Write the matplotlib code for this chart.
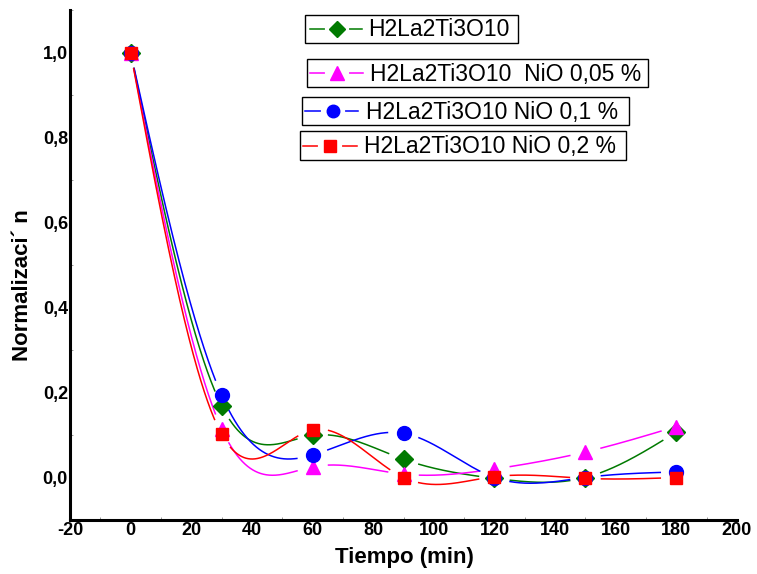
import numpy as np
import matplotlib
matplotlib.use("Agg")
import matplotlib.pyplot as plt
from matplotlib.lines import Line2D
from matplotlib.patches import Rectangle
from matplotlib.ticker import FuncFormatter, MultipleLocator

# ---- data ----
tiempo = [0, 30, 60, 90, 120, 150, 180]
s_base = [1.0, 0.169, 0.099, 0.043, -0.002, 0.0, 0.107]
s_005 = [1.0, 0.115, 0.025, 0.008, 0.02, 0.06, 0.12]
s_01 = [1.0, 0.194, 0.053, 0.104, 0.0, 0.0, 0.013]
s_02 = [1.0, 0.102, 0.112, 0.0, 0.002, -0.002, 0.0]
labels = ["H2La2Ti3O10", "H2La2Ti3O10  NiO 0,05 %",
          "H2La2Ti3O10 NiO 0,1 %", "H2La2Ti3O10 NiO 0,2 %"]
colors = ["#007A00", "#FF00FF", "#0000FF", "#FF0000"]
markers = ["D", "^", "o", "s"]
msizes = [9, 10.5, 10, 9]
xticks = [-20, 0, 20, 40, 60, 80, 100, 120, 140, 160, 180, 200]
yticks = [0.0, 0.2, 0.4, 0.6, 0.8, 1.0]

W, H = 757, 574
fig = plt.figure(figsize=(W / 100, H / 100), dpi=100)
L, R, T, B = 70, 737, 10, 520
ax = fig.add_axes([L / W, 1 - B / H, (R - L) / W, (B - T) / H])
xmin, xmax, ymin, ymax = -20, 200, -0.1, 1.1
ax.set_xlim(xmin, xmax)
ax.set_ylim(ymin, ymax)


def natural_spline(x, y, xs):
    x = np.asarray(x, float); y = np.asarray(y, float)
    n = len(x)
    h = np.diff(x)
    A = np.zeros((n, n)); rhs = np.zeros(n)
    A[0, 0] = 1; A[-1, -1] = 1
    for i in range(1, n - 1):
        A[i, i - 1] = h[i - 1]
        A[i, i] = 2 * (h[i - 1] + h[i])
        A[i, i + 1] = h[i]
        rhs[i] = 6 * ((y[i + 1] - y[i]) / h[i] - (y[i] - y[i - 1]) / h[i - 1])
    M = np.linalg.solve(A, rhs)
    idx = np.clip(np.searchsorted(x, xs) - 1, 0, n - 2)
    x0 = x[idx]; x1 = x[idx + 1]; hh = x1 - x0
    a = (x1 - xs) / hh; b = (xs - x0) / hh
    return (a * y[idx] + b * y[idx + 1]
            + ((a ** 3 - a) * M[idx] + (b ** 3 - b) * M[idx + 1]) * hh ** 2 / 6)


sx = (R - L) / (xmax - xmin)
sy = (B - T) / (ymax - ymin)
series = [s_base, s_005, s_01, s_02]
xs = np.linspace(0, 180, 4000)
gap = 16
for ys, c, m, ms in zip(series, colors, markers, msizes):
    yc = natural_spline(tiempo, ys, xs)
    mask = np.ones_like(xs, bool)
    for px, py in zip(tiempo, ys):
        d = np.hypot((xs - px) * sx, (yc - py) * sy)
        mask &= d > gap
    yplot = np.where(mask, yc, np.nan)
    ax.plot(xs, yplot, color=c, lw=1.1)
for ys, c, m, ms in zip(series, colors, markers, msizes):
    ax.plot(tiempo, ys, linestyle="none", marker=m, color=c, ms=ms, mec=c)

for s in ["top", "right"]:
    ax.spines[s].set_visible(False)
for s in ["left", "bottom"]:
    ax.spines[s].set_linewidth(2.2)

fam = ["Liberation Sans Narrow", "Liberation Sans", "DejaVu Sans"]
ax.set_xticks(xticks)
ax.set_yticks(yticks)
ax.xaxis.set_minor_locator(MultipleLocator(10))
ax.yaxis.set_minor_locator(MultipleLocator(0.1))
ax.xaxis.set_major_formatter(FuncFormatter(lambda v, p: f"{int(round(v))}"))
ax.yaxis.set_major_formatter(FuncFormatter(lambda v, p: f"{v:.1f}".replace(".", ",")))
ax.tick_params(which="both", direction="in", length=0, pad=1.5)
ax.tick_params(which="minor", length=2, width=0.6, color="#888888")
for lab in ax.get_xticklabels() + ax.get_yticklabels():
    lab.set_family(fam); lab.set_weight("bold"); lab.set_size(13)

ax.set_xlabel("Tiempo (min)", family=fam, weight="bold", size=16)
ax.set_ylabel("Normalizaci´ n", family=fam, weight="bold", size=16)
ax.xaxis.set_label_coords((404 - L) / (R - L), (B - 558) / (B - T))
ax.yaxis.set_label_coords((22 - L) / (R - L), (B - 285) / (B - T))
ax.xaxis.label.set_va("center")
ax.yaxis.label.set_va("center")

# ---- legend boxes (separate, Origin style) ----
boxes = [(305, 15, 518, 43, 310, 362, 337, 368),
         (307, 59, 648, 87, 310, 363, 337, 370),
         (302, 97, 629, 125, 305, 358, 333, 366),
         (300, 131, 626, 160, 303, 357, 330, 364)]
leg_ms = [8.5, 10, 9, 8]


def fx(px):
    return px / W


def fy(py):
    return 1 - py / H


for (x0, y0, x1, y1, l0, l1, mx, tx), lab, c, m, ms in zip(boxes, labels, colors, markers, leg_ms):
    fig.add_artist(Rectangle((fx(x0), fy(y1)), (x1 - x0) / W, (y1 - y0) / H,
                             transform=fig.transFigure, fill=False, ec="black", lw=1.0))
    yc = (y0 + y1) / 2
    fig.add_artist(Line2D([fx(l0), fx(l1)], [fy(yc), fy(yc)], transform=fig.transFigure,
                          color=c, lw=1.1))
    fig.add_artist(Line2D([fx(mx - 10), fx(mx + 10)], [fy(yc), fy(yc)], transform=fig.transFigure,
                          color="white", lw=3))
    fig.add_artist(Line2D([fx(mx)], [fy(yc)], transform=fig.transFigure, marker=m,
                          color=c, ms=ms, linestyle="none"))
    fig.text(fx(tx), fy(yc + 1), lab, ha="left", va="center",
             family=["Liberation Sans", "DejaVu Sans"], size=16.5)

fig.savefig("out.png", dpi=100)
